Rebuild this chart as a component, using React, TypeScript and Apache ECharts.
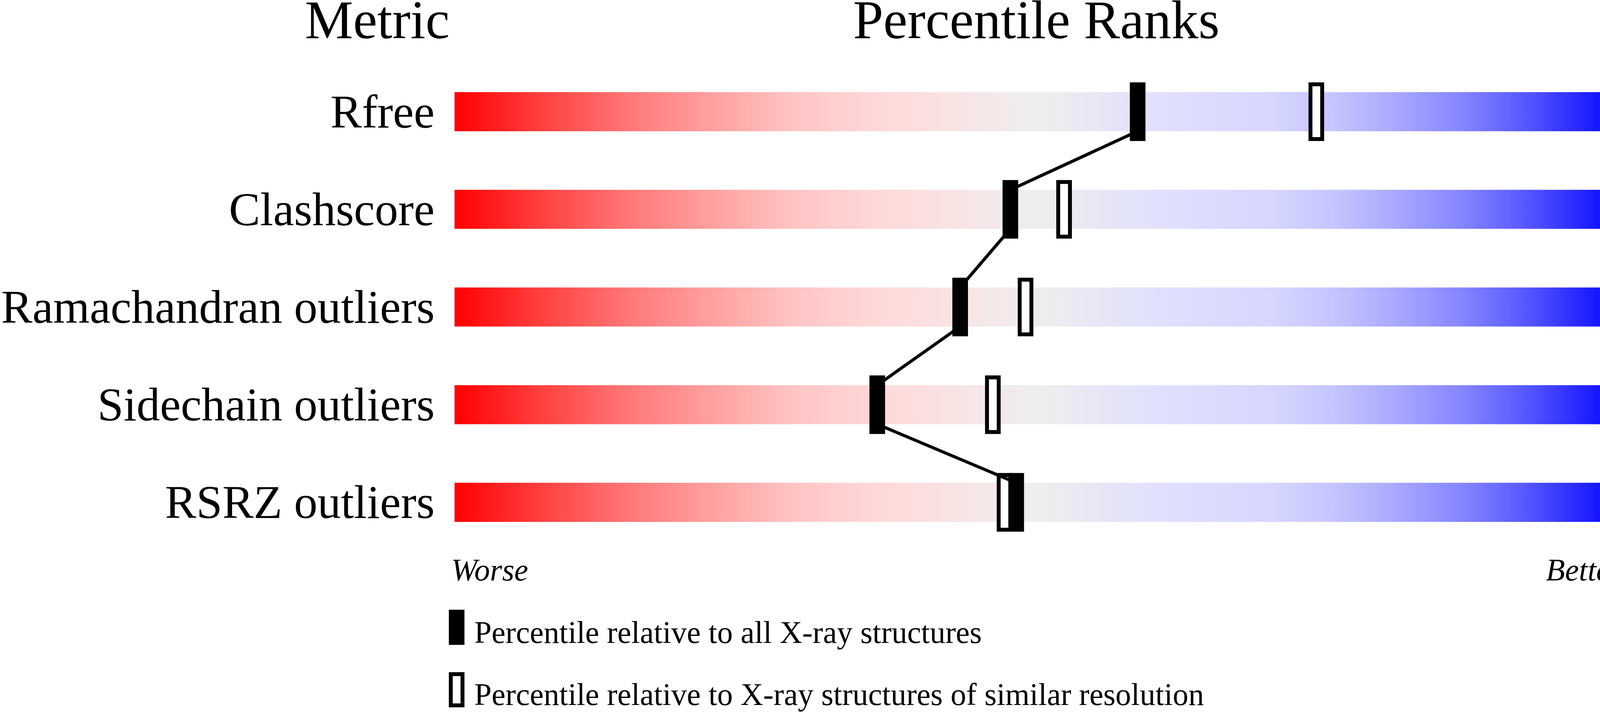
import React, { useEffect, useRef } from 'react';
import * as echarts from 'echarts';

// ---- data ----
const metrics = ['Rfree', 'Clashscore', 'Ramachandran outliers', 'Sidechain outliers', 'RSRZ outliers'];
const valueLabels = ['0.226', '6', '0.2%', '3.0%', '3.4%'];
const pctAll = [58.5, 47.6, 43.3, 36.2, 48.1];
const pctSimilar = [73.8, 52.2, 48.9, 46.1, 47.1];
const headerTitles = ['Metric', 'Percentile Ranks', 'Value'];
const scaleEnds = ['Worse', 'Better'];
const legendTexts = [
  'Percentile relative to all X-ray structures',
  'Percentile relative to X-ray structures of similar resolution',
];

const W = 4485;
const H = 1824;
const FONT = '"Liberation Serif", "Times New Roman", Times, serif';

const gradientStops = [
  { offset: 0, color: 'rgb(255,0,0)' },
  { offset: 0.07, color: 'rgb(255,60,60)' },
  { offset: 0.15, color: 'rgb(255,120,120)' },
  { offset: 0.22, color: 'rgb(255,160,160)' },
  { offset: 0.29, color: 'rgb(255,196,196)' },
  { offset: 0.36, color: 'rgb(255,216,216)' },
  { offset: 0.43, color: 'rgb(248,228,228)' },
  { offset: 0.5, color: 'rgb(238,238,238)' },
  { offset: 0.57, color: 'rgb(228,228,248)' },
  { offset: 0.63, color: 'rgb(221,221,255)' },
  { offset: 0.7, color: 'rgb(214,214,255)' },
  { offset: 0.75, color: 'rgb(198,198,255)' },
  { offset: 0.8, color: 'rgb(172,172,255)' },
  { offset: 0.86, color: 'rgb(135,135,255)' },
  { offset: 0.92, color: 'rgb(85,85,255)' },
  { offset: 1, color: 'rgb(0,0,255)' },
];

export default function App() {
  const ref = useRef<HTMLDivElement>(null);

  useEffect(() => {
    if (!ref.current) return;
    const chart = echarts.init(ref.current, null, { renderer: 'svg' });
    const BAR_FRAC = 0.4;
    const MARK_FRAC = 0.6;
    const MARK_W = 40;
    const STROKE = 10;

    const labelCommon = {
      fontSize: 120,
      fontFamily: FONT,
      color: '#000',
      margin: 51,
      interval: 0,
      padding: [19, 0, 0, 0],
    };

    const option: any = {
      animation: false,
      backgroundColor: '#ffffff',
      grid: { left: 1153, right: 332, top: 161, bottom: 412, containLabel: false },
      xAxis: { type: 'value', min: 0, max: 100, show: false },
      yAxis: [
        {
          type: 'category',
          data: metrics,
          inverse: true,
          position: 'left',
          axisLine: { show: false },
          axisTick: { show: false },
          splitLine: { show: false },
          axisLabel: { ...labelCommon, align: 'right' },
        },
        {
          type: 'category',
          data: valueLabels,
          inverse: true,
          position: 'right',
          axisLine: { show: false },
          axisTick: { show: false },
          splitLine: { show: false },
          axisLabel: { ...labelCommon, align: 'left' },
        },
      ],
      series: [
        {
          type: 'custom',
          name: 'sliders',
          z: 1,
          encode: { x: 0, y: 1 },
          data: metrics.map((_, i) => [0, i]),
          renderItem: (params: any, api: any) => {
            const i = api.value(1);
            const p0 = api.coord([0, i]);
            const p1 = api.coord([100, i]);
            const band = api.size([0, 1])[1];
            const h = band * BAR_FRAC;
            return {
              type: 'rect',
              shape: { x: p0[0], y: p0[1] - h / 2, width: p1[0] - p0[0], height: h },
              style: { fill: new echarts.graphic.LinearGradient(0, 0, 1, 0, gradientStops) },
            };
          },
        },
        {
          type: 'custom',
          name: 'similar',
          z: 2,
          encode: { x: 0, y: 1 },
          data: pctSimilar.map((v, i) => [v, i]),
          renderItem: (params: any, api: any) => {
            const c = api.coord([api.value(0), api.value(1)]);
            const band = api.size([0, 1])[1];
            const h = band * MARK_FRAC;
            return {
              type: 'rect',
              shape: {
                x: c[0] - MARK_W / 2 + STROKE / 2,
                y: c[1] - h / 2 + STROKE / 2,
                width: MARK_W - STROKE,
                height: h - STROKE,
              },
              style: { fill: '#fff', stroke: '#000', lineWidth: STROKE },
            };
          },
        },
        {
          type: 'custom',
          name: 'link',
          z: 3,
          encode: { x: [0, 2], y: [1, 3] },
          data: pctAll.slice(0, -1).map((v, i) => [v, i, pctAll[i + 1], i + 1]),
          renderItem: (params: any, api: any) => {
            const a = api.coord([api.value(0), api.value(1)]);
            const b = api.coord([api.value(2), api.value(3)]);
            const band = api.size([0, 1])[1];
            const off = (band * BAR_FRAC) / 2;
            return {
              type: 'line',
              shape: { x1: a[0], y1: a[1] + off, x2: b[0], y2: b[1] - off },
              style: { stroke: '#000', lineWidth: 8 },
            };
          },
        },
        {
          type: 'custom',
          name: 'all',
          z: 4,
          encode: { x: 0, y: 1 },
          data: pctAll.map((v, i) => [v, i]),
          renderItem: (params: any, api: any) => {
            const c = api.coord([api.value(0), api.value(1)]);
            const band = api.size([0, 1])[1];
            const h = band * MARK_FRAC;
            return {
              type: 'rect',
              shape: { x: c[0] - MARK_W / 2, y: c[1] - h / 2, width: MARK_W, height: h },
              style: { fill: '#000' },
            };
          },
        },
      ],
      graphic: [
        {
          type: 'text',
          x: 1151,
          y: 51,
          style: { text: headerTitles[0], font: `139px ${FONT}`, lineHeight: 100, fill: '#000', textAlign: 'right', textVerticalAlign: 'middle' },
        },
        {
          type: 'text',
          x: 2653,
          y: 51,
          style: { text: headerTitles[1], font: `139px ${FONT}`, lineHeight: 100, fill: '#000', textAlign: 'center', textVerticalAlign: 'middle' },
        },
        {
          type: 'text',
          x: 4480,
          y: 51,
          style: { text: headerTitles[2], font: `139px ${FONT}`, lineHeight: 100, fill: '#000', textAlign: 'right', textVerticalAlign: 'middle' },
        },
        {
          type: 'text',
          x: 1155,
          y: 1460,
          style: { text: scaleEnds[0], font: `italic 80px ${FONT}`, fill: '#000', textAlign: 'left', textVerticalAlign: 'middle' },
        },
        {
          type: 'text',
          x: 4153,
          y: 1460,
          style: { text: scaleEnds[1], font: `italic 80px ${FONT}`, fill: '#000', textAlign: 'right', textVerticalAlign: 'middle' },
        },
        {
          type: 'rect',
          shape: { x: 1149, y: 1562, width: 40, height: 90 },
          style: { fill: '#000' },
        },
        {
          type: 'text',
          x: 1214,
          y: 1620,
          style: { text: legendTexts[0], font: `80px ${FONT}`, fill: '#000', textAlign: 'left', textVerticalAlign: 'middle' },
        },
        {
          type: 'rect',
          shape: { x: 1154, y: 1727, width: 30, height: 80 },
          style: { fill: '#fff', stroke: '#000', lineWidth: 10 },
        },
        {
          type: 'text',
          x: 1214,
          y: 1779,
          style: { text: legendTexts[1], font: `80px ${FONT}`, fill: '#000', textAlign: 'left', textVerticalAlign: 'middle' },
        },
      ],
    };

    chart.setOption(option);
    return () => chart.dispose();
  }, []);

  return (
    <div
      ref={ref}
      style={{ position: 'absolute', left: 0, top: 0, width: W, height: H, background: '#fff' }}
    />
  );
}
